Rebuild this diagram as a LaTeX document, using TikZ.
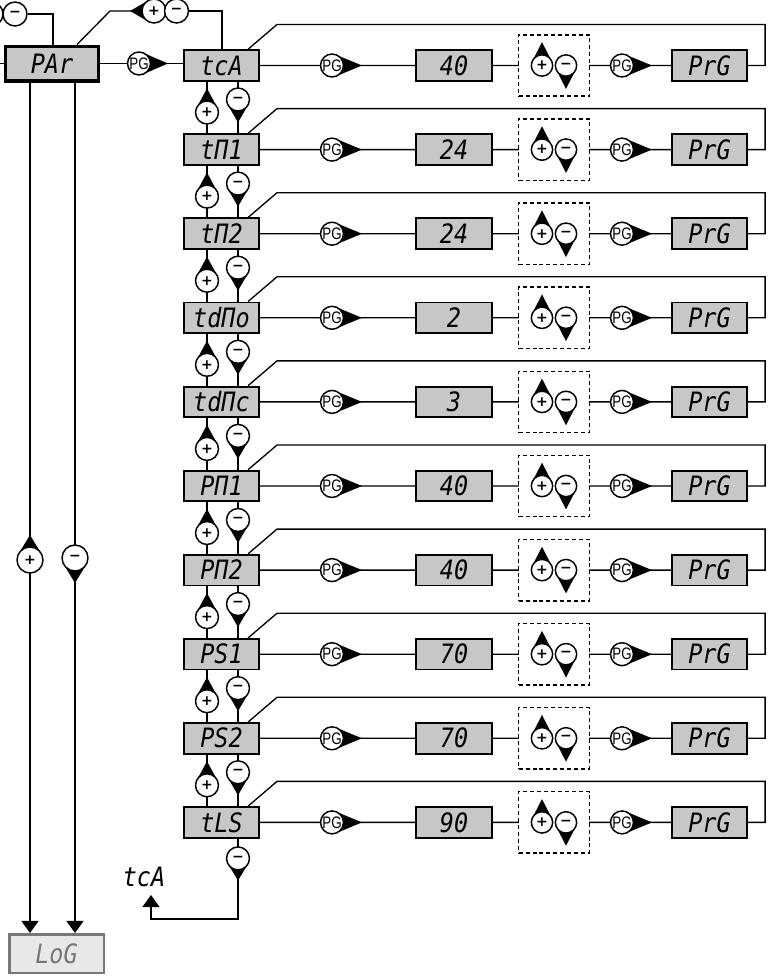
\documentclass[tikz,border=0pt]{standalone}
\usepackage{fontspec}
\newfontfamily\segfam{DejaVu Sans Mono}[FakeStretch=0.88]
\newfontfamily\pgfam{Liberation Sans}[FakeStretch=0.8]
\newfontfamily\symfam{DejaVu Sans}
\usetikzlibrary{arrows.meta,backgrounds}
\definecolor{lcd}{gray}{0.78}
\definecolor{lcdlight}{gray}{0.91}
\definecolor{dimgr}{gray}{0.47}
\tikzset{
  segfont/.style={font=\segfam\itshape\fontsize{20}{20}\selectfont},
  disp/.style={draw=black, line width=1.4pt, fill=lcd, minimum width=56.5pt, minimum height=23pt,
    inner sep=0pt, text height=14.5pt, text depth=0pt, segfont},
  dbox/.style={draw=black, dash pattern=on 3pt off 2.2pt, line width=1.1pt, fill=white,
    minimum width=53pt, minimum height=46pt, inner sep=0pt},
  pinc/.style={circle, draw=black, line width=1.1pt, fill=white, inner sep=0pt},
  conn/.style={line width=1pt, draw=black},
  tri/.style={-{Triangle[width=12.75pt,length=9pt]}},
}
\newcommand\plusg{{\symfam\bfseries\fontsize{10.5}{10.5}\selectfont +}}
\newcommand\minusg{{\symfam\bfseries\fontsize{10.5}{10.5}\selectfont −}}
\newcommand\pglab{{\pgfam\fontsize{12.5}{12.5}\selectfont PG}}
% #1 name, #2 x, #3 y, #4 direction, #5 radius (pt), #6 tip distance (pt), #7 label
\newcommand\pinnode[7]{%
  \coordinate (#1-c) at (#2,#3);%
  \pgfmathsetmacro\pinaa{#4+acos(#5/#6)}%
  \pgfmathsetmacro\pinab{#4-acos(#5/#6)}%
  \pgfmathsetmacro\pindia{2*#5}%
  \fill ([shift={(\pinaa:#5pt)}]#1-c) -- ([shift={(#4:#6pt)}]#1-c) -- ([shift={(\pinab:#5pt)}]#1-c) -- cycle;%
  \node[pinc, minimum size=\pindia pt] (#1) at (#1-c) {#7};%
}
\begin{document}
\begin{tikzpicture}[x=0.75pt,y=-0.75pt]
\path[use as bounding box] (0,0) rectangle (774,979);

% main PAr box
\node[disp, line width=2.6pt, minimum width=69.4pt, minimum height=25.9pt] (par) at (52,63.5) {PAr};
% LoG box
\node[draw=dimgr, line width=1.9pt, fill=lcdlight, text=dimgr, minimum width=70.9pt, minimum height=28.9pt,
  inner sep=0pt, text height=14.5pt, text depth=0pt, segfont] (log) at (56.5,953.5) {LoG};

% PG between PAr and tcA
\pinnode{pg0}{139}{63.5}{0}{8.6}{21.75}{\pglab}

% top left partial loop
\node[pinc, minimum size=18pt] (tlp) at (-9,14) {};
\node[pinc, minimum size=18pt] (tlm) at (15,14) {\minusg};
\coordinate (tl) at (53,14);
\coordinate (lft) at (-5,63.5);

% top +/- pair
\pinnode{tpp}{154}{11}{180}{9}{18}{\plusg}
\node[pinc, minimum size=18pt] (tpm) at (176.5,11) {\minusg};
\coordinate (ta) at (77,0);
\coordinate (tq) at (110,11);
\coordinate (tr) at (222,11);

% left long pins
\pinnode{lp}{30}{560}{90}{9.75}{18.75}{\plusg}
\pinnode{lm}{75}{558}{-90}{9.75}{18.75}{\minusg}
\coordinate (lx1) at (30,0);
\coordinate (lx2) at (75,0);

% rows
\foreach \i/\nm/\val in {0/tcA/40,1/tΠ1/24,2/tΠ2/24,3/tdΠo/2,4/tdΠc/3,5/PΠ1/40,6/PΠ2/40,7/PS1/70,8/PS2/70,9/tLS/90}{
  \pgfmathsetmacro\y{65.5+84.1*\i}
  \node[disp] (r\i) at (221.5,\y) {\nm};
  \node[disp] (v\i) at (454,\y) {\val};
  \node[disp] (g\i) at (709.5,\y) {PrG};
  \node[dbox] (d\i) at (554,\y) {};
  \pinnode{pa\i}{332}{\y}{0}{8.6}{22.5}{\pglab}
  \pinnode{pb\i}{622}{\y}{0}{8.6}{22.5}{\pglab}
  \pinnode{dp\i}{542}{\y}{90}{8}{17.5}{\plusg}
  \pinnode{dm\i}{566}{\y}{-90}{8}{17.5}{\minusg}
  \ifnum\i<9
    \pgfmathsetmacro\yp{\y+47}
    \pgfmathsetmacro\ym{\y+34}
    \pinnode{up\i}{207}{\yp}{90}{8.6}{18}{\plusg}
    \pinnode{dn\i}{238}{\ym}{-90}{8.6}{17.25}{\minusg}
  \else
    \pgfmathsetmacro\ym{\y+36}
    \pinnode{dn\i}{238}{\ym}{-90}{8.6}{16.5}{\minusg}
  \fi
}

% return to tcA label
\node[segfont, inner sep=0pt, text height=14.5pt, text depth=0pt] (lbl) at (144,877) {tcA};
\coordinate (ret) at (151,919);
\coordinate (rettip) at (151,895);

\begin{scope}[on background layer]
  \fill[white] (0,0) rectangle (774,979);
  % PAr connections
  \draw[conn] (par.east) -- (par.east -| r0.west);
  \draw[conn] (par.west) -- (lft);
  \draw[conn] (tlm) -- (tl) -- (par.north -| tl);
  \draw[conn] (par.north -| ta) -- (tq) -- (tpp);
  \draw[conn] (tpm) -- (tr) -- (r0.north -| tr);
  \draw[conn,tri] (par.south -| lx1) -- (log.north -| lx1);
  \draw[conn,tri] (par.south -| lx2) -- (log.north -| lx2);
  % row chains and loops
  \foreach \i in {0,...,9}{
    \pgfmathsetmacro\y{65.5+84.1*\i}
    \draw[conn] (r\i.east) -- (g\i.east) -- ++(17,0) |- (277,\y-41) -- ([xshift=-9pt]r\i.north east);
  }
  % vertical links between rows
  \foreach \i in {0,...,8}{
    \pgfmathtruncatemacro\j{\i+1}
    \draw[conn] (r\i.south -| up\i) -- (r\j.north -| up\i);
    \draw[conn] (r\i.south -| dn\i) -- (r\j.north -| dn\i);
  }
  \draw[conn,tri] (r9.south -| dn9) |- (ret) -- (rettip);
\end{scope}
\end{tikzpicture}
\end{document}
